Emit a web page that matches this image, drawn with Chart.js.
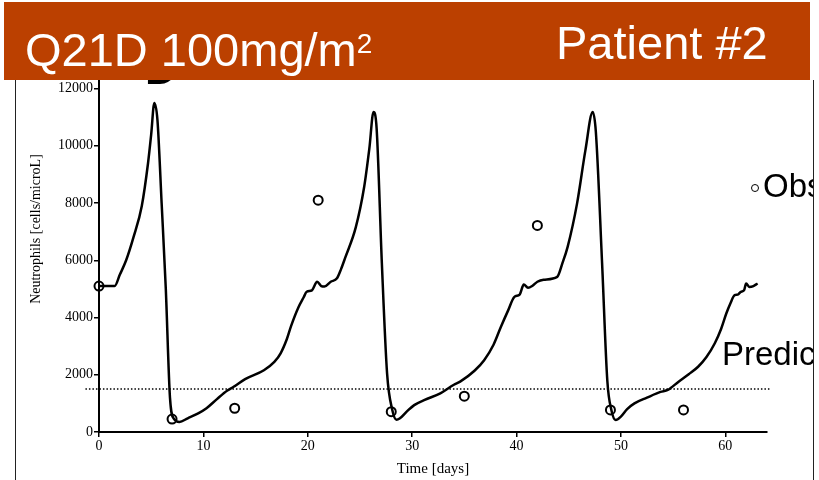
<!DOCTYPE html>
<html>
<head>
<meta charset="utf-8">
<title>Q21D 100mg/m2 Patient #2</title>
<script src="https://cdn.jsdelivr.net/npm/chart.js@4.4.1/dist/chart.umd.min.js"></script>
<style>
    html, body { margin: 0; padding: 0; background: #ffffff; }
    body { width: 819px; height: 480px; position: relative; overflow: hidden; font-family: "Liberation Sans", Arial, sans-serif; }
    #chart { position: absolute; left: 0; top: 0; }
    #panelLetter { position: absolute; left: 145px; top: 47px; font: bold 44px/44px "Liberation Sans", Arial, sans-serif; color: #000; }
    #banner { position: absolute; left: 4px; top: 2px; width: 806px; height: 78px; background: #bb4000; color: #fff; }
    #banner div { position: absolute; font-size: 47px; line-height: 47px; white-space: nowrap; }
    #frame { position: absolute; left: 15px; top: 80px; width: 797px; height: 400px; border-left: 1px solid #222; border-right: 1px solid #222; overflow: hidden; }
    #frame .label { position: absolute; font-size: 33px; line-height: 33px; white-space: nowrap; color: #000; }
    #obsMark { position: absolute; left: 735px; top: 104px; width: 8px; height: 8px; box-sizing: border-box; border: 1.5px solid #000; border-radius: 50%; }
    #yTitle { position: absolute; left: 36px; top: 229px; transform: translate(-50%, -50%) rotate(-90deg); font: 14px "Liberation Serif", "Times New Roman", serif; white-space: nowrap; color: #000; }
</style>
</head>
<body>
<canvas id="chart" width="819" height="480"></canvas>
<div id="panelLetter">D</div>
<div id="yTitle">Neutrophils [cells/microL]</div>
<div id="frame">
    <div id="obsMark"></div>
    <div class="label" style="left:747px; top:89px;">Observed</div>
    <div class="label" style="left:706px; top:257px;">Predicted</div>
</div>
<div id="banner">
    <div style="left:21px; top:18px;">Q21D 100mg/m<span style="font-size:28px; vertical-align:13px;">2</span></div>
    <div style="left:552px; top:17px;">Patient #2</div>
</div>
<script>
    // model prediction (days, cells/microL)
    const PRED_DAYS = [0, 1.5, 2.0, 2.6, 3.3, 4.1, 4.7, 5.0, 5.3, 5.6, 6.0, 6.4, 6.8, 7.2, 7.7,
        8.5, 9.5, 10.3, 11.3, 12.3, 12.9, 14.0, 15.8, 16.8, 17.4, 18.0, 18.4, 19.1, 19.6, 19.9,
        20.4, 20.9, 21.3, 21.6, 22.2, 22.8, 23.2, 23.6, 24.6, 25.4, 25.9, 26.3, 26.6, 27.1, 27.6,
        28.1, 28.5, 28.8, 29.5, 30.2, 31.2, 32.7, 34.0, 34.6, 36.0, 36.9, 37.8, 38.5, 39.2, 39.8,
        40.3, 40.7, 41.1, 41.5, 42.0, 42.6, 43.9, 44.4, 44.9, 45.8, 46.6, 47.3, 47.6, 48.2, 48.7,
        49.1, 49.5, 50.0, 50.6, 51.3, 52.5, 53.8, 54.5, 55.5, 56.5, 57.4, 58.2, 59.0, 59.6, 60.1,
        60.5, 60.9, 61.2, 61.5, 61.8, 62.0, 62.3, 62.7, 63.1];
    const PRED_VALUES = [5100, 5100, 5500, 6000, 6800, 7900, 9400, 10400, 11500, 10900, 8000, 5000, 1200, 450, 350,
        480, 650, 830, 1150, 1450, 1580, 1850, 2160, 2450, 2750, 3250, 3700, 4350, 4700, 4900,
        4950, 5250, 5100, 5080, 5250, 5370, 5700, 6100, 7150, 8550, 9900, 11180, 10600, 5900, 2050,
        770, 430, 470, 720, 940, 1120, 1350, 1650, 1760, 2150, 2510, 3050, 3670, 4250, 4720,
        4800, 5150, 5040, 5100, 5250, 5320, 5420, 5900, 6470, 7980, 9840, 11180, 10500, 5900, 1800,
        750, 420, 540, 800, 1000, 1200, 1400, 1470, 1750, 2020, 2280, 2620, 3100, 3600, 4140,
        4500, 4780, 4800, 4900, 4950, 5190, 5070, 5100, 5190];

    // observed counts
    const OBS_DAYS = [0, 7, 13, 21, 28, 35, 42, 49, 56];
    const OBS_VALUES = [5100, 450, 830, 8100, 710, 1250, 7220, 770, 770];

    // dotted reference level
    const LIMIT_DAYS = [-1.3, 64.4];
    const LIMIT_VALUES = [1500, 1500];

    const X_TICKS = [0, 10, 20, 30, 40, 50, 60];
    const Y_TICKS = [0, 2000, 4000, 6000, 8000, 10000, 12000];
    const X_TITLE = 'Time [days]';

    const TICK_FONT = { family: '"Liberation Serif", "Times New Roman", serif', size: 14 };

    function toPoints(xs, ys) {
        return xs.map((x, i) => ({ x: x, y: ys[i] }));
    }

    function tickSetter(values) {
        return function (scale) {
            scale.ticks = values.map(v => ({ value: v }));
        };
    }

    function plainLabel(value) {
        return String(value); // no thousands separator
    }

    function generateChart() {
        const ctx = document.getElementById('chart').getContext('2d');
        new Chart(ctx, {
            type: 'line',
            data: {
                datasets: [
                    {
                        label: 'Predicted',
                        data: toPoints(PRED_DAYS, PRED_VALUES),
                        borderColor: '#000',
                        borderWidth: 2.5,
                        pointRadius: 0,
                        cubicInterpolationMode: 'monotone',
                        fill: false
                    },
                    {
                        label: 'Observed',
                        type: 'scatter',
                        data: toPoints(OBS_DAYS, OBS_VALUES),
                        showLine: false,
                        pointStyle: 'circle',
                        pointRadius: 4.5,
                        pointBorderWidth: 2,
                        borderColor: '#000',
                        backgroundColor: 'rgba(255,255,255,0)',
                        clip: false
                    },
                    {
                        label: 'Limit',
                        data: toPoints(LIMIT_DAYS, LIMIT_VALUES),
                        borderColor: '#000',
                        borderWidth: 1.5,
                        borderDash: [1.5, 2],
                        pointRadius: 0,
                        clip: false,
                        fill: false
                    }
                ]
            },
            options: {
                responsive: false,
                animation: false,
                devicePixelRatio: 1,
                layout: { padding: { top: 80, right: 52, left: 0, bottom: 0 } },
                plugins: {
                    legend: { display: false },
                    tooltip: { enabled: false }
                },
                scales: {
                    x: {
                        type: 'linear',
                        min: 0,
                        max: 64,
                        afterBuildTicks: tickSetter(X_TICKS),
                        afterFit: scale => { scale.height = 48; },
                        grid: { display: true, drawOnChartArea: false, drawTicks: true, tickLength: 5, color: '#000', lineWidth: 1.5 },
                        border: { display: true, color: '#000', width: 2 },
                        ticks: { color: '#000', font: TICK_FONT, padding: 1, maxRotation: 0, callback: plainLabel },
                        title: {
                            display: true,
                            text: X_TITLE,
                            color: '#000',
                            font: { family: '"Liberation Serif", "Times New Roman", serif', size: 15 },
                            padding: { top: 0, bottom: 2 }
                        }
                    },
                    y: {
                        type: 'linear',
                        min: 0,
                        max: 12300,
                        afterBuildTicks: tickSetter(Y_TICKS),
                        afterFit: scale => { scale.width = 99; },
                        grid: { display: true, drawOnChartArea: false, drawTicks: true, tickLength: 5, color: '#000', lineWidth: 1.5 },
                        border: { display: true, color: '#000', width: 2 },
                        ticks: { color: '#000', font: TICK_FONT, padding: 1, callback: plainLabel }
                    }
                }
            }
        });
    }

    generateChart();
</script>
</body>
</html>
